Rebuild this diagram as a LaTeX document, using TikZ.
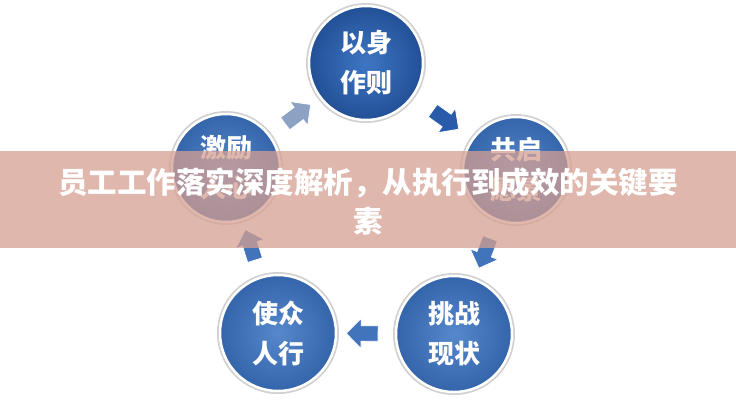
\documentclass[tikz,border=0pt]{standalone}
\usepackage{fontspec}
\setmainfont{Noto Sans CJK SC}
\usetikzlibrary{shapes.arrows,calc}
\definecolor{ballin}{RGB}{86,136,204}
\definecolor{ballout}{RGB}{52,100,170}
\definecolor{topin}{RGB}{62,118,196}
\definecolor{topout}{RGB}{34,80,150}
\definecolor{arrowdark}{RGB}{40,92,170}
\definecolor{arrowmid}{RGB}{66,116,188}
\definecolor{arrowgray}{RGB}{140,162,196}
\definecolor{bannerpink}{RGB}{214,160,146}
\begin{document}
\begin{tikzpicture}[x=1pt,y=-1pt,
  ball/.style={circle, minimum size=#1, inner sep=0pt, draw=white, line width=2.5pt,
    inner color=ballin, outer color=ballout, text=white,
    font=\bfseries\fontsize{26}{40}\selectfont, align=center,
    preaction={draw=black!18, line width=6pt}},
  topball/.style={ball=#1, inner color=topin, outer color=topout},
  flow/.style={single arrow, draw=white, line width=0.8pt, fill=#1,
    minimum height=32pt, minimum width=30pt, inner sep=6pt,
    single arrow head extend=6pt, sloped, allow upside down, pos=0.5, anchor=center},
  banner/.style={fill=bannerpink, fill opacity=0.75, draw=none},
  titletext/.style={text=white, font=\bfseries\fontsize{29.5}{39}\selectfont, align=center}
]
\useasboundingbox (0,0) rectangle (736,400);
\fill[white] (0,0) rectangle (736,400);

\node[topball=114pt] (lead) at (366,63) {以身\\作则};
\node[ball=106pt] (vision) at (516,170) {共启\\愿景};
\node[ball=116pt] (challenge) at (454,334) {挑战\\现状};
\node[ball=116pt] (enable) at (278,333) {使众\\人行};
\node[ball=108pt] (inspire) at (226,168) {激励\\人心};

\path (lead) -- node[flow=arrowdark] {} (vision);
\path (vision) -- node[flow=arrowmid] {} (challenge);
\path (challenge) -- node[flow=arrowmid] {} (enable);
\path (enable) -- node[flow=arrowmid] {} (inspire);
\path (inspire) -- node[flow=arrowgray] {} (lead);

\path[banner] (0,151) rectangle (736,248);
\node[titletext] (title) at (368,202) {员工工作落实深度解析，从执行到成效的关键要\\素};
\end{tikzpicture}
\end{document}
